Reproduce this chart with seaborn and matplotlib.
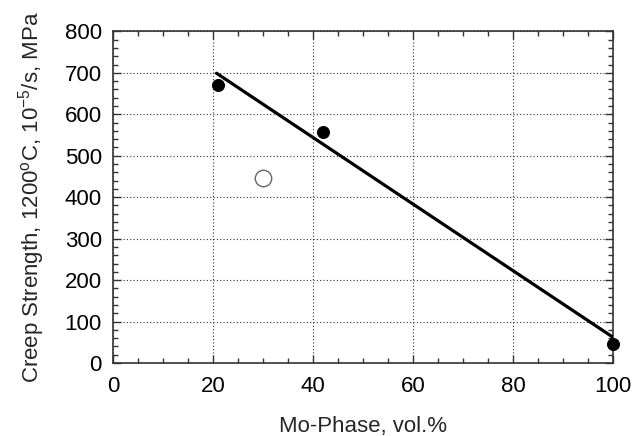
import matplotlib
matplotlib.use("Agg")
import matplotlib.pyplot as plt
import seaborn as sns
import pandas as pd
from matplotlib.ticker import MultipleLocator

sns.set_style("ticks")
plt.rcParams['font.family'] = ['Liberation Sans', 'DejaVu Sans']
plt.rcParams['mathtext.fontset'] = 'custom'
plt.rcParams['mathtext.rm'] = 'Liberation Sans'
plt.rcParams['mathtext.it'] = 'Liberation Sans'

# measured points
mo_phase = [21, 42, 100]
strength = [670, 558, 47]

# open symbol
open_x = [30]
open_y = [447]

# fitted trend line
fit_x = [20.7, 100]
fit_y = [699, 62]

df = pd.DataFrame({"x": mo_phase, "y": strength})
df_open = pd.DataFrame({"x": open_x, "y": open_y})
df_fit = pd.DataFrame({"x": fit_x, "y": fit_y})

fig = plt.figure(figsize=(6.44, 4.36), dpi=100)
ax = fig.add_axes([0.1755, 0.1674, 0.7765, 0.7606])

ax.grid(True, which="major", linestyle=(0, (1, 2)), color="#333333", linewidth=0.8)

sns.lineplot(data=df_fit, x="x", y="y", ax=ax, color="black", linewidth=2.3, zorder=3)
sns.scatterplot(data=df, x="x", y="y", ax=ax, color="black", s=75, edgecolor="black",
                zorder=4, clip_on=False)
sns.scatterplot(data=df_open, x="x", y="y", ax=ax, facecolor="white", edgecolor="#666666",
                s=140, linewidth=1.0, zorder=4)

ax.set_xlim(0, 100)
ax.set_ylim(0, 800)
ax.xaxis.set_major_locator(MultipleLocator(20))
ax.xaxis.set_minor_locator(MultipleLocator(5))
ax.yaxis.set_major_locator(MultipleLocator(100))
ax.yaxis.set_minor_locator(MultipleLocator(20))
ax.tick_params(which="both", direction="in", top=True, right=True, colors="#333333",
               labelcolor="black", labelsize=16)
ax.tick_params(which="major", length=6, width=1)
ax.tick_params(which="minor", length=3.5, width=1)
ax.tick_params(axis="x", pad=9)
ax.tick_params(axis="y", pad=8)
for sp in ax.spines.values():
    sp.set_color("#333333")
    sp.set_linewidth(1.2)

ax.set_xlabel("Mo-Phase, vol.%", fontsize=16, labelpad=14)
ax.set_ylabel("Creep Strength, 1200$^\\mathrm{o}$C, 10$^{-5}$/s, MPa", fontsize=16, labelpad=13)

fig.savefig("out.png", dpi=100)
